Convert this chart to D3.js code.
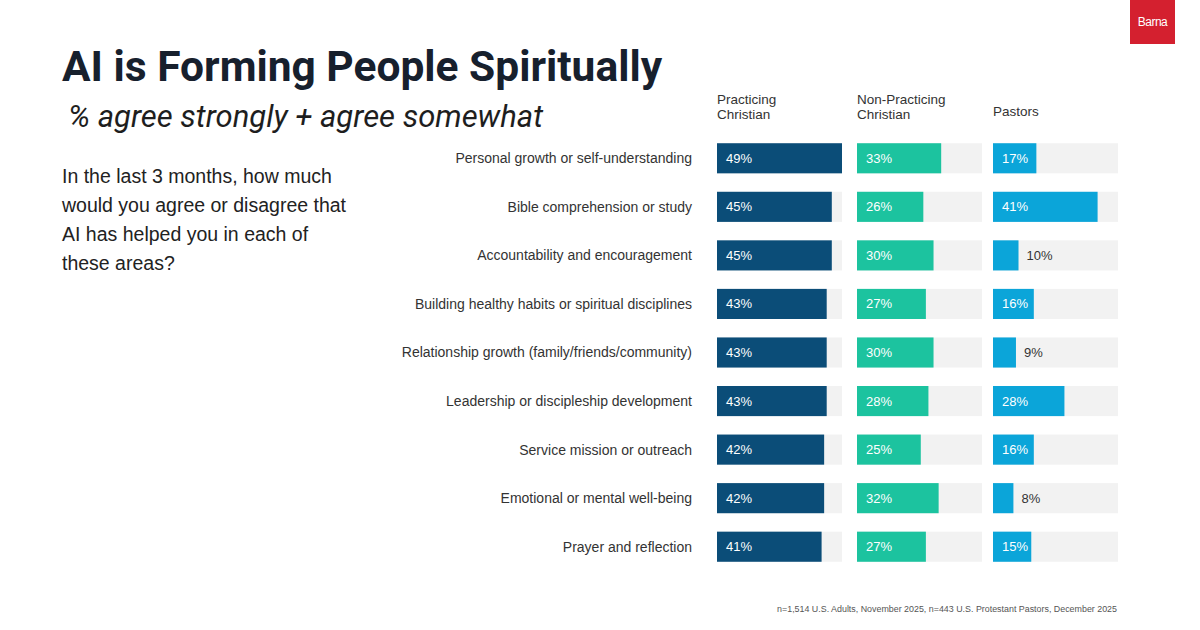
<!DOCTYPE html>
<html>
<head>
<meta charset="utf-8">
<script src="https://cdn.jsdelivr.net/npm/d3@7"></script>
<style>
  html, body { margin: 0; padding: 0; background: #fff; }
  svg text { font-family: "Liberation Sans", Arial, sans-serif; }
</style>
</head>
<body>
<div id="chart"></div>
<script>
const categories = [
  "Personal growth or self-understanding",
  "Bible comprehension or study",
  "Accountability and encouragement",
  "Building healthy habits or spiritual disciplines",
  "Relationship growth (family/friends/community)",
  "Leadership or discipleship development",
  "Service mission or outreach",
  "Emotional or mental well-being",
  "Prayer and reflection"
]
const groups = [["Practicing", "Christian"], ["Non-Practicing", "Christian"], ["Pastors"]]
const practicing = [49, 45, 45, 43, 43, 43, 42, 42, 41]
const nonPracticing = [33, 26, 30, 27, 30, 28, 25, 32, 27]
const pastors = [17, 41, 10, 16, 9, 28, 16, 8, 15]
const series = [practicing, nonPracticing, pastors]
const colors = ["#0b4d78", "#1cc39f", "#0ba5d9"]
const question = [
  "In the last 3 months, how much",
  "would you agree or disagree that",
  "AI has helped you in each of",
  "these areas?"
]

const width = 1200, height = 630
const svg = d3.select("#chart").append("svg")
  .attr("viewBox", [0, 0, width, height])
  .attr("width", width)
  .attr("height", height)

// logo
svg.append("rect").attr("x", 1130).attr("y", 0).attr("width", 45).attr("height", 44).attr("fill", "#d4202f")
svg.append("text").attr("x", 1152.5).attr("y", 26).attr("text-anchor", "middle")
  .attr("fill", "#fff").attr("font-size", 12).style("letter-spacing", "-0.5px").text("Barna")

// titles
svg.append("text").attr("x", 62).attr("y", 81)
  .style("font-family", "Roboto").attr("font-weight", 700).attr("font-size", 42.5)
  .attr("fill", "#17202d").text("AI is Forming People Spiritually")
svg.append("text").attr("x", 68).attr("y", 127)
  .style("font-family", "Roboto").attr("font-style", "italic").attr("font-size", 31)
  .attr("fill", "#1e1e1e").text("% agree strongly + agree somewhat")

svg.append("g").selectAll("text")
  .data(question)
  .join("text")
  .attr("x", 62)
  .attr("y", (d, i) => 183 + i * 29)
  .attr("font-size", 19.5)
  .attr("fill", "#222")
  .text(d => d)

// layout
const colX = [717, 857, 993]
const colW = 125
const x = d3.scaleLinear().domain([0, 49]).range([0, colW])
const y = d3.scaleBand()
  .domain(categories)
  .range([134, 571])
  .paddingInner(0.38)
  .paddingOuter(0.19)

const plot = svg.append("g").classed("plot", true)

plot.append("g").classed("labels", true)
  .selectAll("text")
  .data(categories)
  .join("text")
  .attr("x", 692)
  .attr("y", d => y(d) + y.bandwidth() / 2)
  .attr("dy", "0.35em")
  .attr("text-anchor", "end")
  .attr("font-size", 14)
  .attr("fill", "#333")
  .text(d => d)

groups.forEach((g, gi) => {
  const head = svg.append("text")
    .attr("x", colX[gi])
    .attr("y", g.length > 1 ? 104 : 116)
    .attr("font-size", 13.5)
    .attr("fill", "#333")
  head.selectAll("tspan")
    .data(g)
    .join("tspan")
    .attr("x", colX[gi])
    .attr("dy", (d, i) => i ? 15 : 0)
    .text(d => d)

  const col = plot.append("g").attr("transform", `translate(${colX[gi]},0)`)

  col.selectAll("rect.bg")
    .data(categories)
    .join("rect")
    .classed("bg", true)
    .attr("x", 0)
    .attr("y", d => y(d))
    .attr("width", colW)
    .attr("height", y.bandwidth())
    .attr("fill", "#f2f2f2")

  const vals = series[gi]
  col.selectAll("rect.bar")
    .data(vals)
    .join("rect")
    .classed("bar", true)
    .attr("x", 0)
    .attr("y", (d, i) => y(categories[i]))
    .attr("width", d => x(d))
    .attr("height", y.bandwidth())
    .attr("fill", colors[gi])

  col.selectAll("text.val")
    .data(vals)
    .join("text")
    .classed("val", true)
    .attr("x", d => d >= 12 ? 9 : x(d) + 8)
    .attr("y", (d, i) => y(categories[i]) + y.bandwidth() / 2)
    .attr("dy", "0.35em")
    .attr("font-size", 13)
    .attr("fill", d => d >= 12 ? "#fff" : "#333")
    .text(d => d + "%")
})

svg.append("text").attr("x", 1117).attr("y", 612).attr("text-anchor", "end")
  .attr("font-size", 8.9).attr("fill", "#555")
  .text("n=1,514 U.S. Adults, November 2025, n=443 U.S. Protestant Pastors, December 2025")
</script>
</body>
</html>
